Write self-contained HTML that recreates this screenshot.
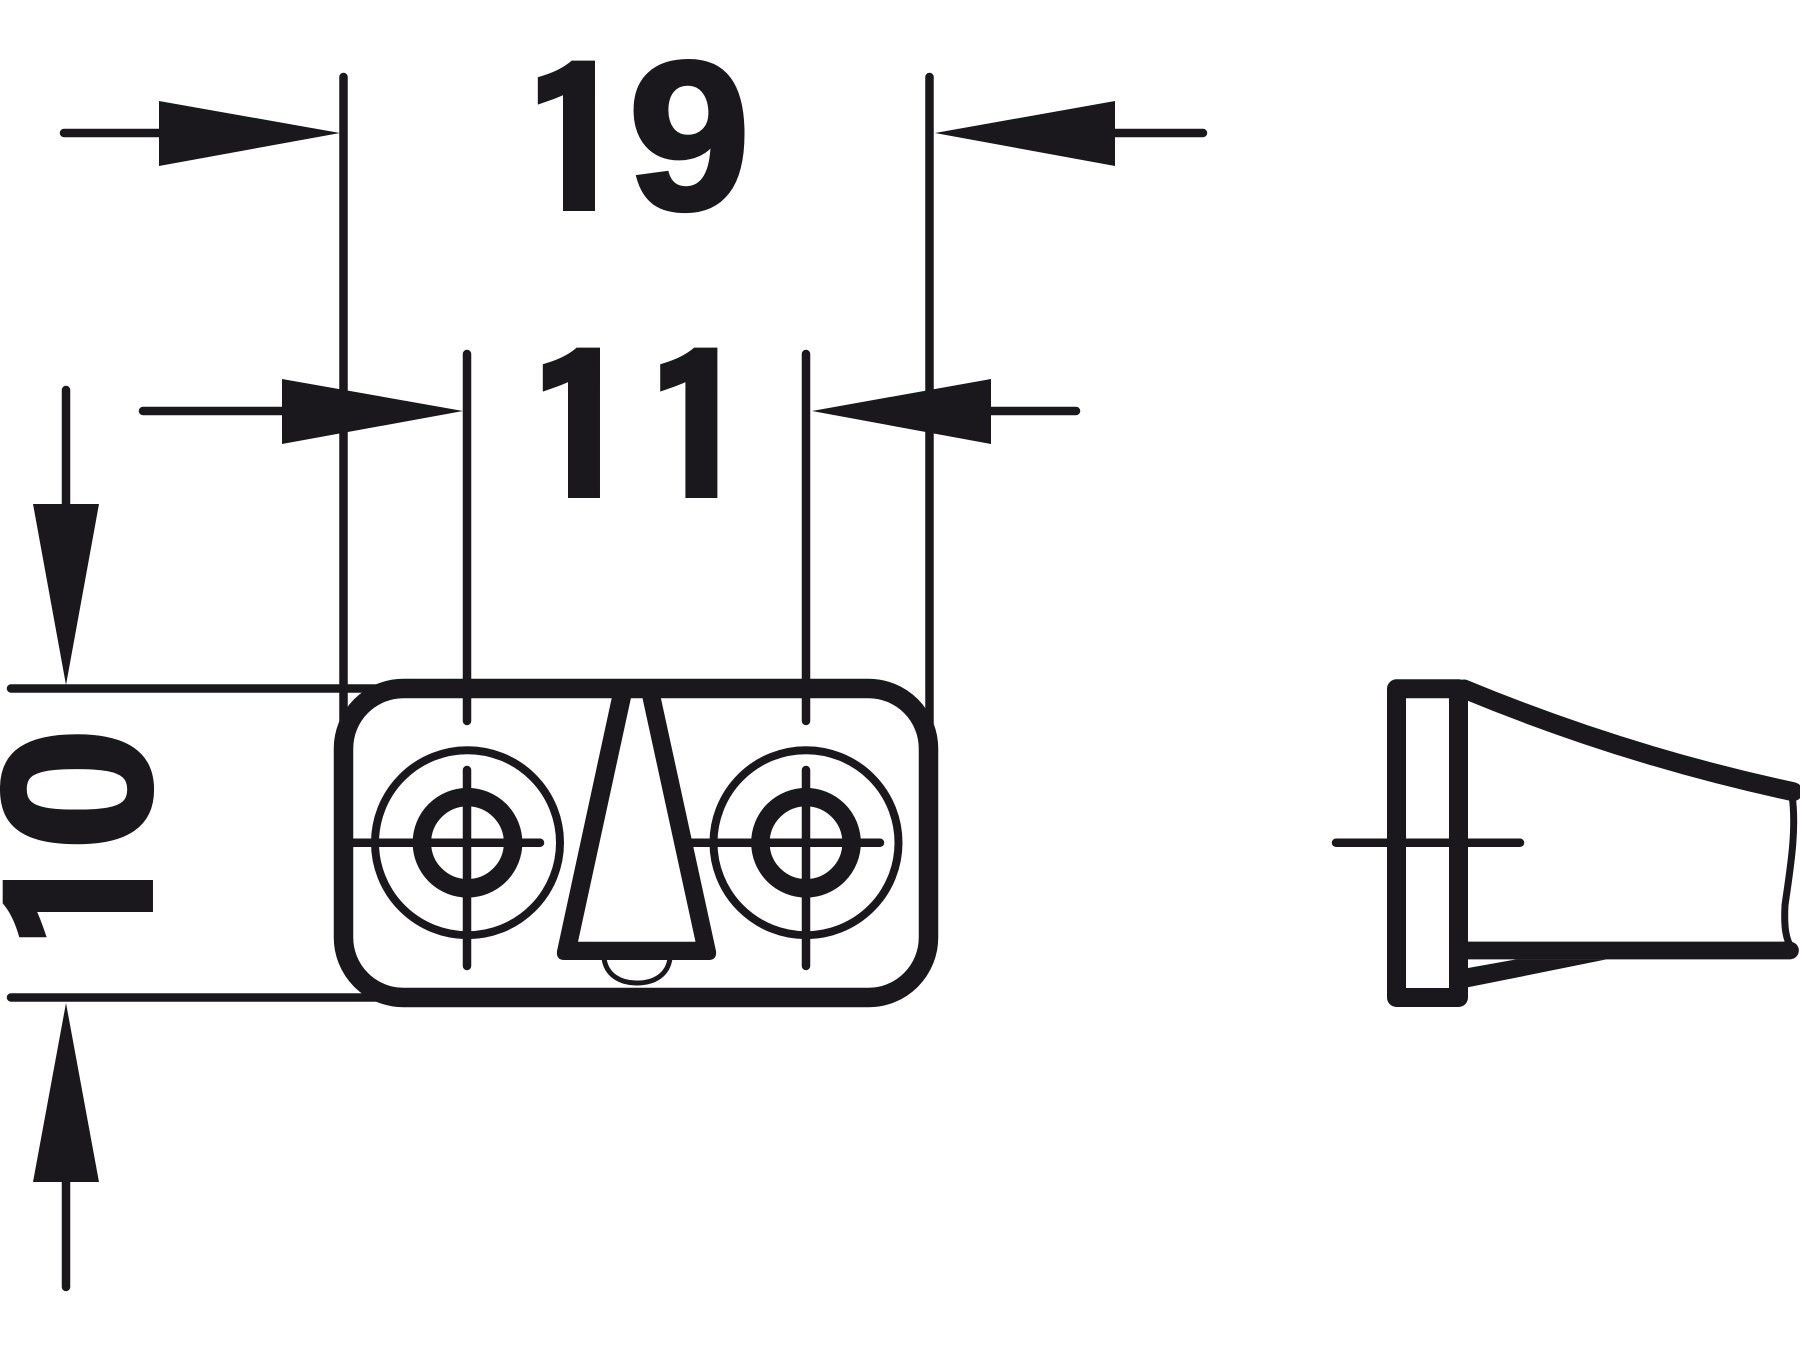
<!DOCTYPE html>
<html><head><meta charset="utf-8"><style>html,body{margin:0;padding:0;background:#fff}svg{display:block}text{font-family:"Liberation Sans",sans-serif;font-weight:700;font-size:212px;fill:#1a181c;stroke:#1a181c;stroke-width:4}text.o{font-family:"IPAGothic",sans-serif;font-weight:700;font-size:200px}</style></head><body>
<svg width="1800" height="1350" viewBox="0 0 1800 1350" xmlns="http://www.w3.org/2000/svg">
<rect width="1800" height="1350" fill="#fff"/>
<text class="o" transform="translate(515.6,216) scale(1.2,1)">1</text>
<text transform="translate(628,209) scale(1.04,1)">9</text>
<text class="o" transform="translate(520.6,503) scale(1.2,1)">1</text>
<text class="o" transform="translate(638,503) scale(1.2,1)">1</text>
<g transform="translate(152,949) rotate(-90)">
<text class="o" transform="translate(-10.4,6) scale(1.2,1)">1</text>
<text transform="translate(98,-2) scale(1.05,1)">0</text>
</g>
<g fill="none" stroke="#1a181c" stroke-linecap="round" stroke-linejoin="round">
<g stroke-width="8.5">
<path d="M343.5 77V728M929.5 77V728M467 354V721M806 354V721"/>
<path d="M64 133H170M1110 133H1203M143 411H290M985 411H1076"/>
<path d="M66 390V510M66 1175V1287M11 688.5H390M11 997.5H390"/>
<path d="M467 770V966M806 770V966M352 842.7H540M690 842.7H880M1336 842.7H1520"/>
</g>
<rect x="343.5" y="688.5" width="585" height="309" rx="60" ry="60" stroke-width="19.5" fill="none"/>
<circle cx="467.5" cy="842.7" r="92.5" stroke-width="8"/>
<circle cx="806" cy="842.7" r="92.5" stroke-width="8"/>
<circle cx="467.5" cy="842.7" r="45.6" stroke-width="18.5"/>
<circle cx="806" cy="842.7" r="45.6" stroke-width="18.5"/>
<path d="M604 958C606 975 620 983 637 983C654 983 668 975 670 958" stroke-width="5"/>
<rect x="1396.5" y="688.8" width="62" height="308.7" stroke-width="19"/>
<path d="M1464 689Q1625 755.6 1793 791.7" stroke-width="19"/>
<path d="M1792 795C1797 830 1790 870 1785 905C1784 925 1785 940 1793 950" stroke-width="7"/>
<path d="M1460 950.5H1790" stroke-width="17.7"/>
</g>
<g fill="#1a181c">
<path d="M159 101L340 133L159 166ZM1115 101L935 133L1115 166ZM282 379L463 411L282 444ZM991 379L812 411L991 444ZM33 504H99L66 685ZM33 1182H99L66 1003Z"/>
<path d="M1468 968L1517 959.3H1607L1468 987.3Z"/>
<path fill-rule="evenodd" d="M611.8 697.7H660.8L716 951Q717 960 709 960H564Q556 960 557 951ZM631 697.7L578 941.7H695.5L642.4 697.7Z"/>
</g>
</svg>
</body></html>
